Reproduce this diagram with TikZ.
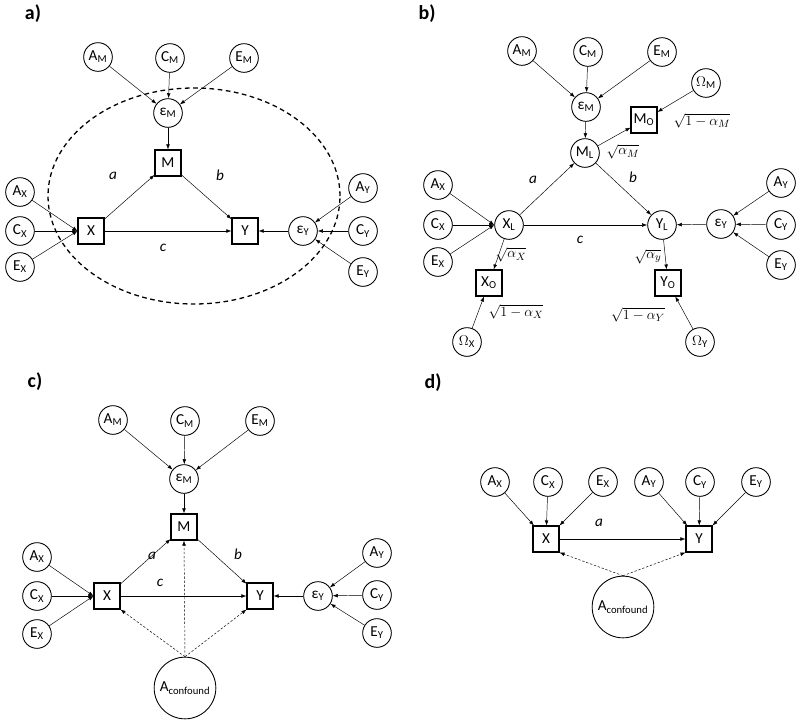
\documentclass[tikz,border=0pt]{standalone}
\usepackage{fontspec}
\setmainfont{Carlito}
\usetikzlibrary{arrows.meta}
\tikzset{
  lat/.style={draw, circle, line width=0.75pt, minimum size=8.6mm, inner sep=0pt, font=\fontsize{13}{15}\selectfont},
  obs/.style={draw, rectangle, line width=0.9pt, minimum size=7.8mm, inner sep=0pt, font=\fontsize{13}{15}\selectfont},
  conf/.style={lat, minimum size=18.5mm},
  lbl/.style={font=\fontsize{13}{15}\selectfont\itshape},
  coef/.style={font=\fontsize{13}{15}\selectfont, inner sep=0pt},
  panel/.style={font=\fontsize{17}{20}\selectfont\bfseries},
  line/.style={-{Latex[length=1.5mm,width=1.1mm]}, line width=0.4pt},
  dashedline/.style={line, dash pattern=on 2pt off 1.5pt},
  envelope/.style={line width=1.1pt, dash pattern=on 4pt off 3pt}
}
\newcommand{\vn}[2]{#1\textsubscript{#2}}

\begin{document}
\begin{tikzpicture}[x=0.3mm, y=-0.3mm]
  \useasboundingbox (0,0) rectangle (800,719);

  % a) mediation model
  \node[panel] (pa) at (33,14) {a)};
  \node[lat] (aAM) at (98,57) {\vn{A}{M}};
  \node[lat] (aCM) at (170,58) {\vn{C}{M}};
  \node[lat] (aEM) at (244,58) {\vn{E}{M}};
  \node[lat] (aepsM) at (168,113) {\vn{ε}{M}};
  \node[obs] (aM) at (168,163) {M};
  \node[obs] (aX) at (91,231) {X};
  \node[obs] (aY) at (245,231) {Y};
  \node[lat] (aepsY) at (303,231) {\vn{ε}{Y}};
  \node[lat] (aAX) at (20,192) {\vn{A}{X}};
  \node[lat] (aCX) at (20,231) {\vn{C}{X}};
  \node[lat] (aEX) at (20,267) {\vn{E}{X}};
  \node[lat] (aAY) at (363,188) {\vn{A}{Y}};
  \node[lat] (aCY) at (363,231) {\vn{C}{Y}};
  \node[lat] (aEY) at (363,272) {\vn{E}{Y}};
  \node[lbl] (aa) at (113,176) {a};
  \node[lbl] (ab) at (220,175) {b};
  \node[lbl] (ac) at (163,248) {c};
  \draw[envelope] (194,196) ellipse [x radius=43.8mm, y radius=32.4mm];

  \draw[line] (aAM) -- (aepsM);
  \draw[line] (aCM) -- (aepsM);
  \draw[line] (aEM) -- (aepsM);
  \draw[line] (aepsM) -- (aM);
  \draw[line] (aAX) -- (aX.west);
  \draw[line] (aCX) -- (aX.west);
  \draw[line] (aEX) -- (aX.west);
  \draw[line] (aX) -- (aM);
  \draw[line] (aM) -- (aY);
  \draw[line] (aX) -- (aY);
  \draw[line] (aepsY) -- (aY);
  \draw[line] (aAY) -- (aepsY);
  \draw[line] (aCY) -- (aepsY);
  \draw[line] (aEY) -- (aepsY);

  % b) latent variables with measurement error
  \node[panel] (pb) at (427,14) {b)};
  \node[lat] (bAM) at (522,51) {\vn{A}{M}};
  \node[lat] (bCM) at (588,52) {\vn{C}{M}};
  \node[lat] (bEM) at (662,52) {\vn{E}{M}};
  \node[lat] (bOM) at (706,83) {$\Omega$\textsubscript{M}};
  \node[lat] (bepsM) at (586,107) {\vn{ε}{M}};
  \node[obs] (bMO) at (644,120) {\vn{M}{O}};
  \node[lat] (bML) at (585,153) {\vn{M}{L}};
  \node[lat] (bAX) at (438,185) {\vn{A}{X}};
  \node[lat] (bCX) at (438,225) {\vn{C}{X}};
  \node[lat] (bEX) at (438,262) {\vn{E}{X}};
  \node[lat] (bXL) at (509,225) {\vn{X}{L}};
  \node[lat] (bYL) at (662,225) {\vn{Y}{L}};
  \node[lat] (bepsY) at (721,224) {\vn{ε}{Y}};
  \node[lat] (bAY) at (781,183) {\vn{A}{Y}};
  \node[lat] (bCY) at (781,225) {\vn{C}{Y}};
  \node[lat] (bEY) at (781,265) {\vn{E}{Y}};
  \node[obs] (bXO) at (489,283) {\vn{X}{O}};
  \node[obs] (bYO) at (668,283) {\vn{Y}{O}};
  \node[lat] (bOX) at (467,342) {$\Omega$\textsubscript{X}};
  \node[lat] (bOY) at (700,342) {$\Omega$\textsubscript{Y}};
  \node[lbl] (ba) at (533,180) {a};
  \node[lbl] (bb) at (633,177) {b};
  \node[lbl] (bc) at (580,240) {c};
  \node[coef] (kM) at (702,121) {$\sqrt{1-\alpha_M}$};
  \node[coef] (kML) at (623,152) {$\sqrt{\alpha_M}$};
  \node[coef] (kX) at (511,255) {$\sqrt{\alpha_X}$};
  \node[coef] (kY) at (648,257) {$\sqrt{\alpha_y}$};
  \node[coef] (kOX) at (516,312) {$\sqrt{1-\alpha_X}$};
  \node[coef] (kOY) at (638,315) {$\sqrt{1-\alpha_Y}$};

  \draw[line] (bAM) -- (bepsM);
  \draw[line] (bCM) -- (bepsM);
  \draw[line] (bEM) -- (bepsM);
  \draw[line] (bepsM) -- (bML);
  \draw[line] (bML) -- (bMO);
  \draw[line] (bOM) -- (bMO);
  \draw[line] (bAX) -- (bXL.west);
  \draw[line] (bCX) -- (bXL.west);
  \draw[line] (bEX) -- (bXL.west);
  \draw[line] (bXL) -- (bML);
  \draw[line] (bML) -- (bYL);
  \draw[line] (bXL) -- (bYL);
  \draw[line] (bepsY) -- (bYL);
  \draw[line] (bAY) -- (bepsY);
  \draw[line] (bCY) -- (bepsY);
  \draw[line] (bEY) -- (bepsY);
  \draw[line] (bXL) -- (bXO);
  \draw[line] (bOX) -- (bXO);
  \draw[line] (bYL) -- (bYO);
  \draw[line] (bOY) -- (bYO);

  % c) mediation with a shared confounder
  \node[panel] (pc) at (35,382) {c)};
  \node[lat] (cAM) at (113,420) {\vn{A}{M}};
  \node[lat] (cCM) at (185,421) {\vn{C}{M}};
  \node[lat] (cEM) at (260,421) {\vn{E}{M}};
  \node[lat] (cepsM) at (184,479) {\vn{ε}{M}};
  \node[obs] (cM) at (184,527) {M};
  \node[obs] (cX) at (107,596) {X};
  \node[obs] (cY) at (260,596) {Y};
  \node[lat] (cepsY) at (318,596) {\vn{ε}{Y}};
  \node[lat] (cAX) at (37,557) {\vn{A}{X}};
  \node[lat] (cCX) at (37,596) {\vn{C}{X}};
  \node[lat] (cEX) at (37,634) {\vn{E}{X}};
  \node[lat] (cAY) at (377,553) {\vn{A}{Y}};
  \node[lat] (cCY) at (377,595) {\vn{C}{Y}};
  \node[lat] (cEY) at (377,633) {\vn{E}{Y}};
  \node[conf] (cAc) at (185,688) {\vn{A}{confound}};
  \node[lbl] (ca) at (152,556) {a};
  \node[lbl] (cb) at (238,554) {b};
  \node[lbl] (cc) at (160,583) {c};

  \draw[line] (cAM) -- (cepsM);
  \draw[line] (cCM) -- (cepsM);
  \draw[line] (cEM) -- (cepsM);
  \draw[line] (cepsM) -- (cM);
  \draw[line] (cAX) -- (cX.west);
  \draw[line] (cCX) -- (cX.west);
  \draw[line] (cEX) -- (cX.west);
  \draw[line] (cX) -- (cM);
  \draw[line] (cM) -- (cY);
  \draw[line] (cX) -- (cY);
  \draw[line] (cepsY) -- (cY);
  \draw[line] (cAY) -- (cepsY);
  \draw[line] (cCY) -- (cepsY);
  \draw[line] (cEY) -- (cepsY);
  \draw[dashedline] (cAc.north) -- (cX.south east);
  \draw[dashedline] (cAc.north) -- (cM.south);
  \draw[dashedline] (cAc.north) -- (cY.south west);

  % d) direct path with a shared confounder
  \node[panel] (pd) at (433,383) {d)};
  \node[lat] (dAX) at (495,482) {\vn{A}{X}};
  \node[lat] (dCX) at (548,482) {\vn{C}{X}};
  \node[lat] (dEX) at (603,482) {\vn{E}{X}};
  \node[lat] (dAY) at (649,482) {\vn{A}{Y}};
  \node[lat] (dCY) at (700,482) {\vn{C}{Y}};
  \node[lat] (dEY) at (756,482) {\vn{E}{Y}};
  \node[obs] (dX) at (546,539) {X};
  \node[obs] (dY) at (699,539) {Y};
  \node[conf] (dAc) at (623,607) {\vn{A}{confound}};
  \node[lbl] (da) at (599,523) {a};

  \draw[line] (dAX) -- (dX);
  \draw[line] (dCX) -- (dX);
  \draw[line] (dEX) -- (dX);
  \draw[line] (dAY) -- (dY);
  \draw[line] (dCY) -- (dY);
  \draw[line] (dEY) -- (dY);
  \draw[line] (dX) -- (dY);
  \draw[dashedline] (dAc.north) -- (dX.south east);
  \draw[dashedline] (dAc.north) -- (dY.south west);
\end{tikzpicture}
\end{document}
